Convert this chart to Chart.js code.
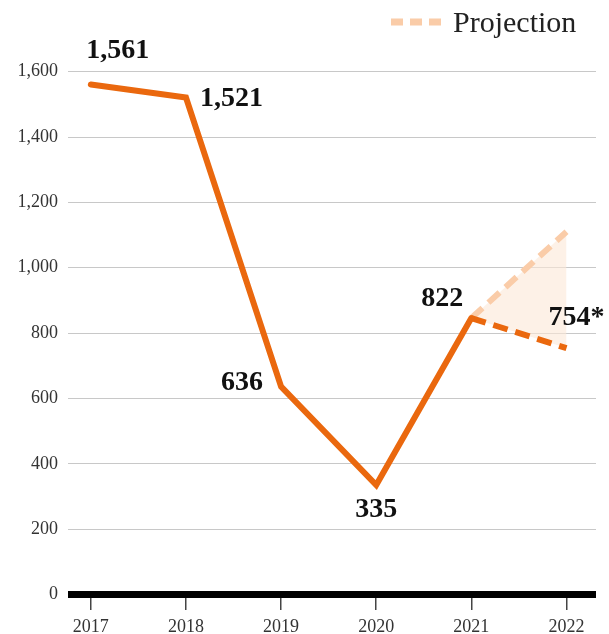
<!DOCTYPE html>
<html>
<head>
<meta charset="utf-8">
<script src="https://cdn.jsdelivr.net/npm/chart.js@4/dist/chart.umd.min.js"></script>
<style>
  html, body { margin: 0; padding: 0; background: #fff; }
  #myChart { display: block; }
</style>
</head>
<body>
<canvas id="myChart" width="609" height="634"></canvas>
<script>
const years = [2017, 2018, 2019, 2020, 2021, 2022];
const actualYears = [2017, 2018, 2019, 2020, 2021];
const actualValues = [1561, 1521, 636, 335, 846];
const actualLabels = ["1,561", "1,521", "636", "335", "822"];
const projYears = [2021, 2022];
const projLow = [846, 754];
const projHigh = [846, 1110];
const projLabel = "754*";
const yTicks = [0, 200, 400, 600, 800, 1000, 1200, 1400, 1600];
const legendText = "Projection";

const ORANGE = "rgb(234, 104, 14)";
const PEACH = "rgb(250, 204, 168)";
const PEACH_FILL = "rgba(252, 232, 215, 0.6)";
const SERIF = "'Liberation Serif', 'DejaVu Serif', serif";

window.onload = function () {
  const canvas = document.getElementById("myChart");
  const ctx = canvas.getContext("2d");

  if (!ctx) {
    console.error("Canvas not found!");
    return;
  }

  const toPoints = (xs, ys) => xs.map((x, i) => ({ x: x, y: ys[i] }));

  // where each value label sits relative to its point (dx, baseline dy, align)
  const labelSpots = [
    { dx: 27, dy: -26, align: "center" },
    { dx: 14, dy: 9, align: "left" },
    { dx: -18, dy: 3, align: "right" },
    { dx: 0, dy: 32, align: "center" },
    { dx: -8, dy: -12, align: "right" },
  ];

  const valueLabels = {
    id: "valueLabels",
    afterDatasetsDraw(chart) {
      const c = chart.ctx;
      c.save();
      c.font = "bold 28px " + SERIF;
      c.fillStyle = "#111";
      c.textBaseline = "alphabetic";
      const meta = chart.getDatasetMeta(0);
      meta.data.forEach((pt, i) => {
        const s = labelSpots[i];
        c.textAlign = s.align;
        c.fillText(actualLabels[i], pt.x + s.dx, pt.y + s.dy);
      });
      const low = chart.getDatasetMeta(1).data[1];
      c.textAlign = "left";
      c.fillText(projLabel, low.x - 18, low.y - 23);
      c.restore();
    },
  };

  const topLegend = {
    id: "topLegend",
    afterDraw(chart) {
      const c = chart.ctx;
      c.save();
      c.strokeStyle = PEACH;
      c.lineWidth = 7;
      c.setLineDash([12, 7]);
      c.beginPath();
      c.moveTo(391, 22);
      c.lineTo(441, 22);
      c.stroke();
      c.setLineDash([]);
      c.font = "30px " + SERIF;
      c.fillStyle = "#222";
      c.textAlign = "left";
      c.textBaseline = "alphabetic";
      c.fillText(legendText, 453, 32);
      c.restore();
    },
  };

  new Chart(ctx, {
    type: "line",
    data: {
      datasets: [
        {
          label: "Actual",
          data: toPoints(actualYears, actualValues),
          borderColor: ORANGE,
          borderWidth: 6,
          borderJoinStyle: "miter",
          borderCapStyle: "round",
          pointRadius: 0,
          tension: 0,
          fill: false,
        },
        {
          label: "Projection low",
          data: toPoints(projYears, projLow),
          borderColor: ORANGE,
          borderWidth: 6,
          borderDash: [15, 8],
          pointRadius: 0,
          tension: 0,
          fill: false,
        },
        {
          label: legendText,
          data: toPoints(projYears, projHigh),
          borderColor: PEACH,
          backgroundColor: PEACH_FILL,
          borderWidth: 6,
          borderDash: [15, 8],
          pointRadius: 0,
          tension: 0,
          fill: 1,
        },
      ],
    },
    options: {
      responsive: false,
      animation: false,
      devicePixelRatio: 1,
      layout: { padding: { top: 39, right: 13, left: 0, bottom: 0 } },
      plugins: {
        legend: { display: false },
        tooltip: { enabled: false },
      },
      scales: {
        x: {
          type: "linear",
          min: 2016.76,
          max: 2022.31,
          afterBuildTicks: (scale) => {
            scale.ticks = years.map((v) => ({ value: v }));
          },
          afterFit: (scale) => {
            scale.height = 39.5;
          },
          border: { display: false },
          grid: {
            drawOnChartArea: false,
            drawTicks: true,
            tickLength: 15.5,
            color: "#444",
            lineWidth: 1.5,
          },
          ticks: {
            padding: 6,
            color: "#333",
            font: { family: SERIF, size: 18 },
            callback: (v) => String(v),
          },
        },
        y: {
          min: 0,
          max: 1700,
          afterBuildTicks: (scale) => {
            scale.ticks = yTicks.map((v) => ({ value: v }));
          },
          afterFit: (scale) => {
            scale.width = 68;
          },
          border: { display: false },
          grid: {
            drawTicks: false,
            color: (c) => (c.tick && c.tick.value === 0 ? "#000" : "#c8c8c8"),
            lineWidth: (c) => (c.tick && c.tick.value === 0 ? 7 : 1),
          },
          ticks: {
            padding: 10,
            color: "#333",
            font: { family: SERIF, size: 18 },
            callback: (v) => v.toLocaleString("en-US"),
          },
        },
      },
    },
    plugins: [valueLabels, topLegend],
  });
};
</script>
</body>
</html>
